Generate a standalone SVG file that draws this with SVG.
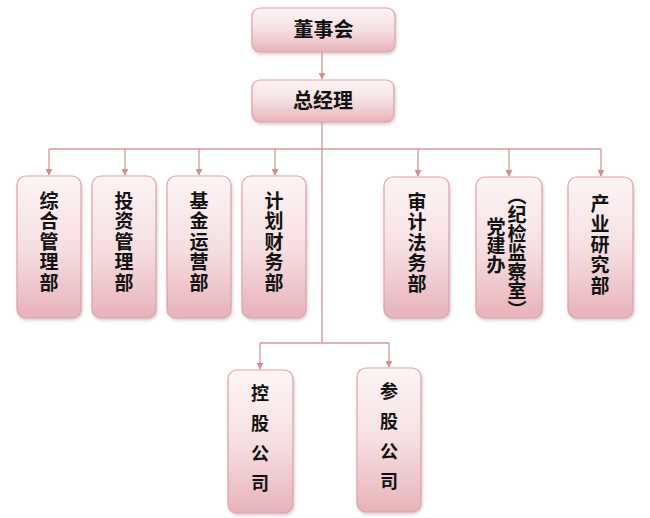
<svg xmlns="http://www.w3.org/2000/svg" width="650" height="518" viewBox="0 0 650 518">
<defs>
<linearGradient id="g" x1="0" y1="0" x2="0" y2="1">
<stop offset="0" stop-color="#fdf5f6"/>
<stop offset="0.5" stop-color="#f6dfe2"/>
<stop offset="1" stop-color="#e7b3b9"/>
</linearGradient>
<filter id="sh" x="-20%" y="-20%" width="140%" height="140%">
<feDropShadow dx="1" dy="2" stdDeviation="1.5" flood-color="#a07076" flood-opacity="0.35"/>
</filter>
<marker id="ar" viewBox="0 0 10 10" refX="9" refY="5" markerWidth="7" markerHeight="7" orient="auto" markerUnits="userSpaceOnUse">
<path d="M0,0 L10,5 L0,10 z" fill="#d08e95"/>
</marker>
</defs>
<style>
.box{fill:url(#g);stroke:#dda3a9;stroke-width:1.2;filter:url(#sh)}
.t{font-family:"Noto Sans CJK SC","Liberation Sans",sans-serif;font-weight:bold;fill:#111}
.h{font-size:20px;text-anchor:middle}
.v{font-size:19px;writing-mode:vertical-rl;letter-spacing:1.5px}
.v2{font-size:18px;writing-mode:vertical-rl;letter-spacing:12px}
.c{fill:none;stroke:#d3979d;stroke-width:1.3}
.a{marker-end:url(#ar)}
</style>
<rect width="650" height="518" fill="#fff"/>
<g id="connectors">
<line class="c a" x1="322" y1="52" x2="322" y2="79"/>
<line class="c" x1="322" y1="122" x2="322" y2="343"/>
<line class="c" x1="49" y1="149" x2="601" y2="149"/>
<line class="c a" x1="49" y1="149" x2="49" y2="175"/>
<line class="c a" x1="125" y1="149" x2="125" y2="175"/>
<line class="c a" x1="199" y1="149" x2="199" y2="175"/>
<line class="c a" x1="275" y1="149" x2="275" y2="175"/>
<line class="c a" x1="418" y1="149" x2="418" y2="176"/>
<line class="c a" x1="509" y1="149" x2="509" y2="176"/>
<line class="c a" x1="601" y1="149" x2="601" y2="176"/>
<line class="c" x1="260" y1="343" x2="389" y2="343"/>
<line class="c a" x1="260" y1="343" x2="260" y2="369"/>
<line class="c a" x1="389" y1="343" x2="389" y2="367"/>
</g>
<g id="n-dongshihui"><rect class="box" x="252" y="8" width="143" height="44" rx="8"/><text class="t h" x="323.5" y="37">董事会</text></g>
<g id="n-zongjingli"><rect class="box" x="252" y="80" width="142" height="42" rx="8"/><text class="t h" x="323" y="108">总经理</text></g>
<g id="n-zonghe"><rect class="box" x="17" y="176" width="64" height="142" rx="9"/><text class="t v" x="49" y="191">综合管理部</text></g>
<g id="n-touzi"><rect class="box" x="92" y="176" width="64" height="142" rx="9"/><text class="t v" x="124" y="191">投资管理部</text></g>
<g id="n-jijin"><rect class="box" x="167" y="176" width="64" height="142" rx="9"/><text class="t v" x="199" y="191">基金运营部</text></g>
<g id="n-jihua"><rect class="box" x="242" y="176" width="64" height="142" rx="9"/><text class="t v" x="274" y="191">计划财务部</text></g>
<g id="n-shenji"><rect class="box" x="384" y="177" width="65" height="141" rx="9"/><text class="t v" x="417" y="192">审计法务部</text></g>
<g id="n-dangjian"><rect class="box" x="476" y="177" width="66" height="141" rx="9"/><text class="t v" x="517" y="186" style="letter-spacing:0">（纪检监察室）</text><text class="t v" x="496" y="217" style="letter-spacing:0">党建办</text></g>
<g id="n-chanye"><rect class="box" x="568" y="177" width="65" height="141" rx="9"/><text class="t v" x="600" y="194">产业研究部</text></g>
<g id="n-konggu"><rect class="box" x="228" y="370" width="65" height="143" rx="9"/><text class="t v2" x="260" y="384">控股公司</text></g>
<g id="n-cangu"><rect class="box" x="357" y="368" width="64" height="144" rx="9"/><text class="t v2" x="389" y="382">参股公司</text></g>
</svg>
